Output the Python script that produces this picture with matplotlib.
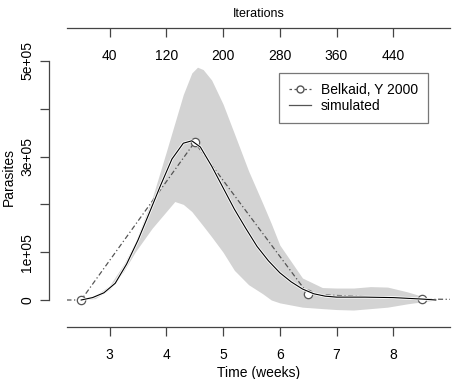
import matplotlib.pyplot as plt
import matplotlib.patheffects as pe
from matplotlib.lines import Line2D

plt.rcParams['font.family'] = ['Liberation Sans', 'DejaVu Sans']

# observed data (Belkaid, Y 2000); points at 0 and 10 weeks lie outside the view
obs_weeks = [0, 2.5, 4.5, 6.5, 8.5, 10]
obs_parasites = [0, 0, 3.3e5, 1.2e4, 2e3, 0]

# simulated mean curve
sim_weeks = [2.5, 2.7, 2.9, 3.1, 3.3, 3.5, 3.7, 3.9, 4.1, 4.3, 4.45, 4.6, 4.8,
             5.0, 5.2, 5.4, 5.6, 5.8, 6.0, 6.2, 6.4, 6.6, 6.8, 7.0, 7.5, 8.0,
             8.5, 8.75]
sim_parasites = [0, 5e3, 1.5e4, 3.5e4, 7.5e4, 1.25e5, 1.82e5, 2.4e5, 2.95e5,
                 3.28e5, 3.33e5, 3.2e5, 2.8e5, 2.35e5, 1.9e5, 1.5e5, 1.12e5,
                 8.2e4, 5.7e4, 3.8e4, 2.3e4, 1.3e4, 8e3, 6e3, 6e3, 5e3, 2e3, 0]

# simulation envelope
band_weeks = [2.5, 2.75, 3.0, 3.25, 3.45, 3.75, 4.0, 4.15, 4.3, 4.45, 4.55,
              4.65, 4.8, 5.0, 5.2, 5.45, 5.7, 5.85, 6.0, 6.4, 6.75, 7.0, 7.3,
              7.6, 7.9, 8.25, 8.5, 8.75]
band_upper = [0, 1e4, 3e4, 7.5e4, 1.2e5, 2.12e5, 3.1e5, 3.7e5, 4.3e5, 4.75e5,
              4.87e5, 4.82e5, 4.6e5, 4.1e5, 3.48e5, 2.7e5, 2.02e5, 1.6e5,
              1.15e5, 4.6e4, 2.6e4, 2.5e4, 2.5e4, 2.8e4, 2.7e4, 1.7e4, 8e3, 0]
band_lower = [0, 3e3, 2.2e4, 6e4, 1.0e5, 1.5e5, 1.85e5, 2.06e5, 2.0e5, 1.85e5,
              1.7e5, 1.55e5, 1.32e5, 1.0e5, 6.2e4, 3.2e4, 1.3e4, 0, -6e3,
              -1.5e4, -1.8e4, -2e4, -2.1e4, -1.8e4, -1.5e4, -8e3, -4e3, 0]

week_ticks = [3, 4, 5, 6, 7, 8]
iter_ticks = [40, 120, 200, 280, 360, 440]
y_ticks = [0, 1e5, 2e5, 3e5, 4e5, 5e5]
y_labels = ['0', '1e+05', '', '3e+05', '', '5e+05']

W, H = 454, 379
fig = plt.figure(figsize=(W / 100, H / 100), dpi=100)
left, right, bottom, top = 67, 450, 327, 28
ax = fig.add_axes([left / W, 1 - bottom / H, (right - left) / W, (bottom - top) / H])

axis_col = '#444444'
ax.fill_between(band_weeks, band_lower, band_upper, color='#d3d3d3', lw=0)
ax.plot(obs_weeks, obs_parasites, color='#555555', lw=0.9, dashes=(4, 2, 1, 2),
        marker='o', ms=6, mfc='white', mec='#555555', mew=0.9)
ax.plot(sim_weeks, sim_parasites, color='black', lw=0.8,
        path_effects=[pe.Stroke(linewidth=2.0, foreground='white'), pe.Normal()])

ax.set_xlim(2.25, 9.0)
ax.set_ylim(-5.65e4, 5.69e5)

for s in ['top', 'right']:
    ax.spines[s].set_visible(False)
ax.spines['left'].set_position(('outward', 13))
ax.spines['left'].set_bounds(0, 5e5)
for s in ['left', 'bottom']:
    ax.spines[s].set_color(axis_col)
    ax.spines[s].set_linewidth(0.9)

ax.set_xticks(week_ticks)
ax.set_yticks(y_ticks)
ax.set_yticklabels(y_labels, rotation=90, va='center')
ax.tick_params(length=6.5, width=0.9, color=axis_col, labelsize=10, pad=8.5)
ax.tick_params(axis='y', pad=4)
ax.set_xlabel('Time (weeks)', fontsize=10, labelpad=3)
ax.set_ylabel('Parasites', fontsize=10, labelpad=3)

# iterations axis drawn along the top
ax2 = fig.add_axes([left / W, 1 - top / H, (right - left) / W, 1e-4])
ax2.set_xlim(80 * 2.25 - 200, 80 * 9.0 - 200)
ax2.set_yticks([])
for s in ['top', 'right', 'left']:
    ax2.spines[s].set_visible(False)
ax2.spines['bottom'].set_color(axis_col)
ax2.spines['bottom'].set_linewidth(0.9)
ax2.patch.set_visible(False)
ax2.set_xticks(iter_ticks)
ax2.tick_params(length=6.5, width=0.9, color=axis_col, labelsize=10, pad=8.5)
fig.text((left + right) / 2 / W, 1 - 14 / H, 'Iterations', ha='center', va='center', fontsize=9)

handles = [Line2D([], [], color='#555555', lw=0.9, dashes=(2, 2), marker='o', ms=5,
                  mfc='white', mec='#555555'),
           Line2D([], [], color='#555555', lw=0.9)]
leg = ax.legend(handles, ['Belkaid, Y 2000', 'simulated'], loc='upper left',
                bbox_to_anchor=(279 / W, 1 - 73 / H), bbox_transform=fig.transFigure,
                fontsize=10, frameon=True, fancybox=False, handlelength=1.6,
                handletextpad=0.7, borderpad=0.7, labelspacing=0.15, borderaxespad=0)
leg.get_frame().set_edgecolor('#555555')
leg.get_frame().set_linewidth(0.9)

fig.savefig('out.png', dpi=100)
